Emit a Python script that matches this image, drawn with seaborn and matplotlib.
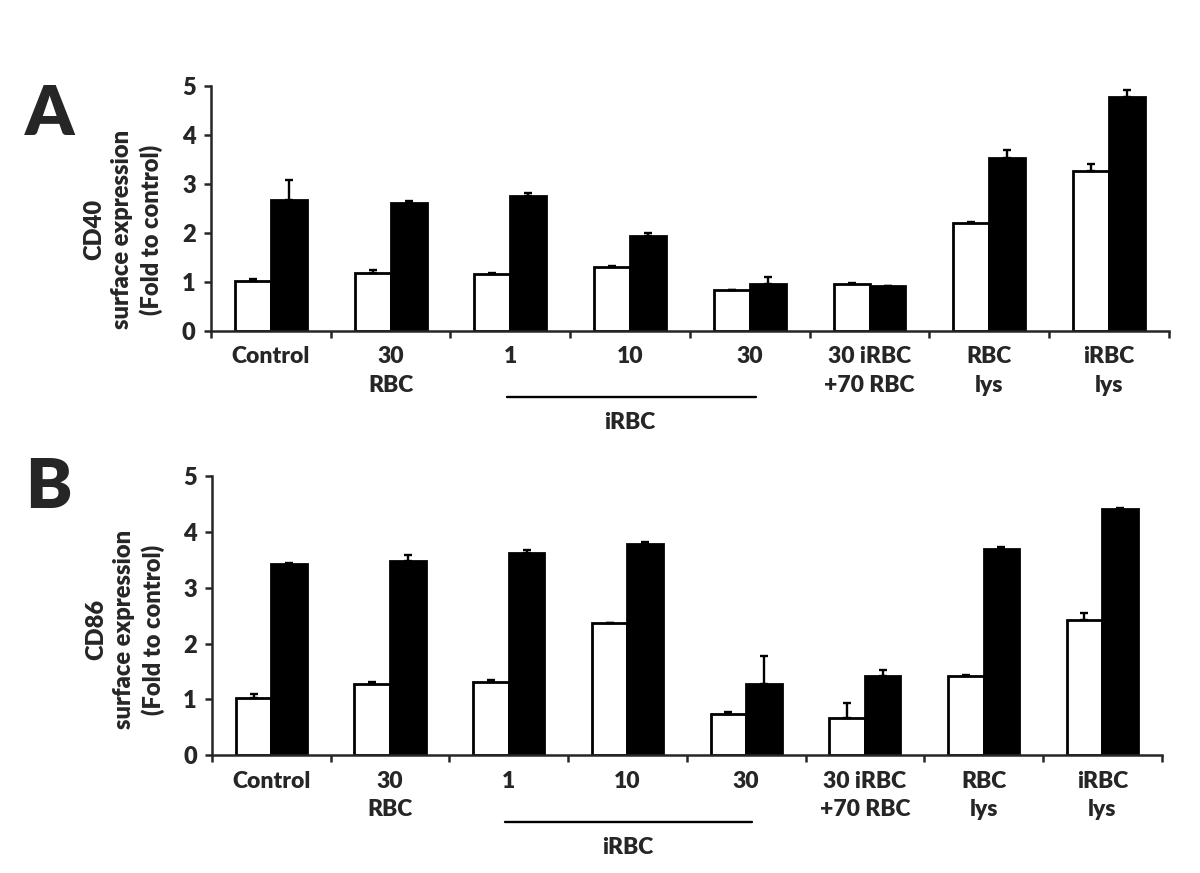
import numpy as np
import pandas as pd
import matplotlib
matplotlib.use("Agg")
import matplotlib.pyplot as plt
import matplotlib.transforms as mtransforms
import seaborn as sns

groups = ["Control", "30\nRBC", "1", "10", "30", "30 iRBC\n+70 RBC", "RBC\nlys", "iRBC\nlys"]
treatments = ["unstimulated", "stimulated"]

# panel A - CD40
cd40_white = [1.02, 1.18, 1.16, 1.30, 0.83, 0.96, 2.21, 3.27]
cd40_white_err = [0.05, 0.07, 0.03, 0.02, 0.01, 0.02, 0.02, 0.14]
cd40_black = [2.68, 2.61, 2.76, 1.94, 0.95, 0.91, 3.54, 4.78]
cd40_black_err = [0.41, 0.05, 0.05, 0.07, 0.16, 0.01, 0.15, 0.13]

# panel B - CD86
cd86_white = [1.03, 1.27, 1.32, 2.36, 0.74, 0.66, 1.42, 2.42]
cd86_white_err = [0.07, 0.05, 0.03, 0.01, 0.04, 0.27, 0.02, 0.12]
cd86_black = [3.43, 3.48, 3.63, 3.79, 1.27, 1.42, 3.69, 4.40]
cd86_black_err = [0.02, 0.10, 0.05, 0.02, 0.51, 0.11, 0.03, 0.02]

sns.set_style("ticks")
plt.rcParams["font.family"] = ["Lato", "DejaVu Sans"]
W = "heavy"
plt.rcParams["font.weight"] = W

fig = plt.figure(figsize=(12, 8.73), dpi=100)
axA = fig.add_axes([0.1758, 0.6208, 0.7983, 0.2807])
axB = fig.add_axes([0.1767, 0.1348, 0.7913, 0.3200])


def draw_panel(ax, white, white_err, black, black_err, ylabel, label_y, line_off, text_off):
    df = pd.DataFrame({
        "group": groups * 2,
        "treat": [treatments[0]] * len(groups) + [treatments[1]] * len(groups),
        "value": white + black,
    })
    sns.barplot(data=df, x="group", y="value", hue="treat", order=groups,
                hue_order=treatments, palette=["white", "black"], saturation=1,
                edgecolor="black", linewidth=2.0, width=0.6, gap=0,
                errorbar=None, legend=False, ax=ax)
    for cont, err in zip(ax.containers, [white_err, black_err]):
        xs = [p.get_x() + p.get_width() / 2 for p in cont]
        hs = [p.get_height() for p in cont]
        ax.errorbar(xs, hs, yerr=[np.zeros(len(err)), err], fmt="none",
                    ecolor="black", elinewidth=1.7, capsize=3, capthick=1.7, zorder=3)

    ax.set_xlim(-0.5, len(groups) - 0.5)
    ax.set_ylim(0, 5)
    ax.set_yticks(range(6))
    ax.set_xticks(np.arange(-0.5, len(groups), 1))
    ax.set_xticklabels([])
    ax.set_xticks(range(len(groups)), minor=True)
    ax.set_xticklabels(groups, minor=True, fontsize=16.5, fontweight=W, linespacing=1.45)
    ax.tick_params(axis="x", which="major", length=5, width=1.8, direction="out")
    ax.tick_params(axis="x", which="minor", length=0, pad=11)
    ax.tick_params(axis="y", length=5, width=1.8, labelsize=17, pad=6)
    for lab in ax.get_yticklabels():
        lab.set_fontweight(W)
    sns.despine(ax=ax)
    for s in ["left", "bottom"]:
        ax.spines[s].set_linewidth(1.8)

    ax.set_xlabel("")
    ax.set_ylabel(ylabel, fontsize=17, fontweight=W, linespacing=1.32)
    ax.yaxis.set_label_coords(-0.05, label_y)

    # iRBC bracket line under the 1 / 10 / 30 groups
    base = mtransforms.blended_transform_factory(ax.transData, ax.transAxes)
    tr_line = base + mtransforms.ScaledTranslation(0, -line_off / 100, fig.dpi_scale_trans)
    ax.plot([1.97, 4.05], [0, 0], color="black", lw=1.7, transform=tr_line, clip_on=False)
    tr_text = base + mtransforms.ScaledTranslation(0, -text_off / 100, fig.dpi_scale_trans)
    ax.text(3.0, 0, "iRBC", ha="center", va="center", fontsize=16.5,
            fontweight=W, transform=tr_text)


draw_panel(axA, cd40_white, cd40_white_err, cd40_black, cd40_black_err,
           "CD40\nsurface expression\n(Fold to control)", 0.414, 66, 91)
draw_panel(axB, cd86_white, cd86_white_err, cd86_black, cd86_black_err,
           "CD86\nsurface expression\n(Fold to control)", 0.45, 67, 92)

fig.text(25 / 1200, 1 - 135 / 873, "A", fontsize=50, fontweight=W, va="baseline")
fig.text(25 / 1200, 1 - 508 / 873, "B", fontsize=50, fontweight=W, va="baseline")

fig.savefig("out.png", dpi=100, facecolor="white")
